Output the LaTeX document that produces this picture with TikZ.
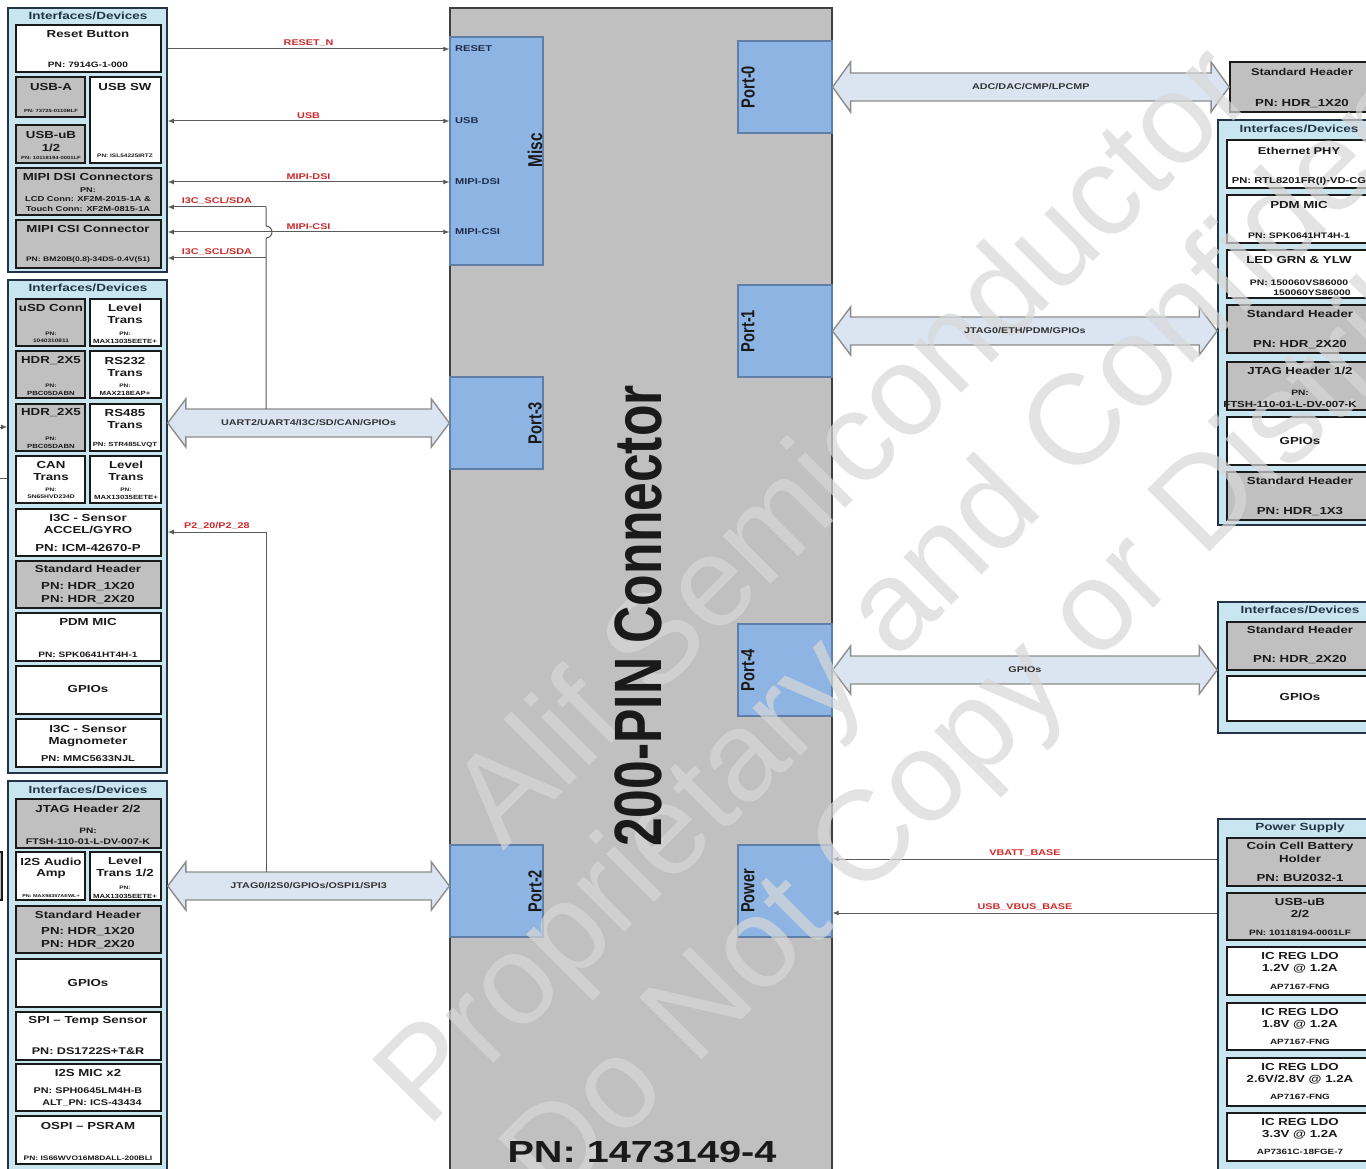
\documentclass[tikz,border=0pt]{standalone}
\usepackage{fontspec}
\setmainfont{Liberation Sans}
\newfontfamily\hf[FakeStretch=1.3]{Liberation Sans}
\newfontfamily\vf[FakeStretch=0.77]{Liberation Sans}
\newfontfamily\wmf{Liberation Sans}
\usetikzlibrary{arrows.meta,calc}
\pgfdeclarelayer{front}
\pgfsetlayers{main,front}
\definecolor{pnlfill}{HTML}{C9E5EF}
\definecolor{pnlline}{HTML}{243447}
\definecolor{boxgray}{HTML}{C0C0C0}
\definecolor{ctrgray}{HTML}{C0C0C0}
\definecolor{portblue}{HTML}{8DB4E2}
\definecolor{portline}{HTML}{5F7FA8}
\definecolor{fatfill}{HTML}{DBE5F1}
\definecolor{fatline}{HTML}{8C8C8C}
\definecolor{connc}{HTML}{5A5A5A}
\definecolor{sigred}{HTML}{CC2A2A}
\definecolor{txtc}{HTML}{1A1A1A}
\definecolor{pinc}{HTML}{1F2D4D}
\definecolor{wmark}{HTML}{D8D8D8}
\newcount\tnc
\newcommand\tx[4][10.2]{\global\advance\tnc by 1 \begin{pgfonlayer}{front}\node[txt,font=\hf\bfseries\fontsize{#1}{#1}\selectfont] (t\the\tnc) at (#2,#3) {#4};\end{pgfonlayer}}
\newcommand\ttl[3]{\global\advance\tnc by 1 \begin{pgfonlayer}{front}\node[txt,text=pnlline,font=\hf\bfseries\fontsize{10.4}{10.4}\selectfont] (t\the\tnc) at (#1,#2) {#3};\end{pgfonlayer}}
\newcommand\vtx[4][19]{\global\advance\tnc by 1 \begin{pgfonlayer}{front}\node[txt,rotate=90,font=\vf\bfseries\fontsize{#1}{#1}\selectfont] (t\the\tnc) at (#2,#3) {#4};\end{pgfonlayer}}
\newcommand\bx[6]{\pgfmathsetmacro\bw{#5-#3}\pgfmathsetmacro\bh{#6-#4}\node[#2,minimum width=\bw pt,minimum height=\bh pt] (#1) at ({(#3+#5)/2},{(#4+#6)/2}) {};}
% fat double arrow: #1 left point, #2 right point, #3 head half height, #4 label, #5 name
\newcommand\fat[5]{%
 \draw[fatarr] let \p1=(#1), \p2=(#2) in
 (\x1,\y1) -- (\x1+18pt,\y1+#3pt) -- (\x1+18pt,\y1+14pt) -- (\x2-18pt,\y1+14pt) -- (\x2-18pt,\y1+#3pt) -- (\x2,\y1)
 -- (\x2-18pt,\y1-#3pt) -- (\x2-18pt,\y1-14pt) -- (\x1+18pt,\y1-14pt) -- (\x1+18pt,\y1-#3pt) -- cycle;
 \begin{pgfonlayer}{front}\node[txt,text=black!80,font=\hf\bfseries\fontsize{8.3}{8.3}\selectfont] (#5) at ($(#1)!0.5!(#2)$) {#4};\end{pgfonlayer}}
\begin{document}
\begin{tikzpicture}[x=1pt,y=-1pt,
 >={Latex[length=6pt,width=5pt]},
 panel/.style={draw=pnlline,line width=1.6pt,fill=pnlfill,inner sep=0pt},
 wbox/.style={draw=txtc,line width=1.8pt,fill=white,inner sep=0pt},
 gbox/.style={draw=txtc,line width=1.8pt,fill=boxgray,inner sep=0pt},
 ctr/.style={draw=black!75,line width=2.2pt,fill=ctrgray,inner sep=0pt},
 port/.style={draw=portline,line width=1.2pt,fill=portblue,inner sep=0pt},
 txt/.style={inner sep=0pt,text=txtc},
 conn/.style={draw=connc,line width=1pt},
 fatarr/.style={draw=fatline,line width=1.4pt,fill=fatfill,line join=miter},
 sig/.style={text=sigred,font=\hf\bfseries\fontsize{8.3}{8.3}\selectfont,inner sep=1.5pt},
 pin/.style={inner sep=0pt,text=pinc,anchor=west,font=\hf\bfseries\fontsize{8.5}{8.5}\selectfont},
 wm/.style={inner sep=0pt,rotate=45,text=wmark,text opacity=0.7,font=\wmf\fontsize{128}{128}\selectfont}]
\useasboundingbox (0,0) rectangle (1366,1169);
\fill[white] (0,0) rectangle (1366,1169);
\clip (0,0) rectangle (1366,1169);

% ================= LEFT PANEL 1 =================
\bx{p1}{panel}{8}{8}{167}{272}
\ttl{88}{16}{Interfaces/Devices}
\bx{breset}{wbox}{16}{25}{161}{72}
\tx{88}{34}{Reset Button}
\tx[7.8]{88}{65}{PN: 7914G-1-000}
\bx{busba}{gbox}{16}{77}{85}{117}
\tx{51}{87}{USB-A}
\tx[4.5]{51}{111}{PN: 73725-0110BLF}
\bx{busbsw}{wbox}{90}{77}{161}{163}
\tx{125}{87}{USB SW}
\tx[5]{125}{156}{PN: ISL54225IRTZ}
\bx{busbub}{gbox}{16}{125}{85}{163}
\tx{51}{135}{USB-uB}
\tx{51}{148}{1/2}
\tx[4.5]{51}{158}{PN: 10118194-0001LF}
\bx{bdsi}{gbox}{16}{168}{161}{215}
\tx{88}{177}{MIPI DSI Connectors}
\tx[7]{88}{190}{PN:}
\tx[7.2]{88}{199}{LCD Conn: XF2M-2015-1A \&}
\tx[7.2]{88}{209}{Touch Conn: XF2M-0815-1A}
\bx{bcsi}{gbox}{16}{220}{161}{268}
\tx{88}{229}{MIPI CSI Connector}
\tx[6.6]{88}{260}{PN: BM20B(0.8)-34DS-0.4V(51)}

% ================= LEFT PANEL 2 =================
\bx{p2}{panel}{8}{280}{167}{773}
\ttl{88}{288}{Interfaces/Devices}
\bx{busd}{gbox}{16}{299}{85}{346}
\tx{51}{308}{uSD Conn}
\tx[5]{51}{334}{PN:}
\tx[5]{51}{341}{1040310811}
\bx{blt1}{wbox}{90}{299}{161}{346}
\tx{125}{308}{Level}
\tx{125}{320}{Trans}
\tx[5]{125}{334}{PN:}
\tx[6]{125}{341}{MAX13035EETE+}
\bx{bhdr1}{gbox}{16}{351}{85}{398}
\tx{51}{361}{HDR\_2X5}
\tx[5]{51}{386}{PN:}
\tx[6]{51}{393}{PBC05DABN}
\bx{brs232}{wbox}{90}{351}{161}{398}
\tx{125}{361}{RS232}
\tx{125}{373}{Trans}
\tx[5]{125}{386}{PN:}
\tx[6]{125}{393}{MAX218EAP+}
\bx{bhdr2}{gbox}{16}{404}{85}{451}
\tx{51}{413}{HDR\_2X5}
\tx[5]{51}{439}{PN:}
\tx[6]{51}{446}{PBC05DABN}
\bx{brs485}{wbox}{90}{404}{161}{451}
\tx{125}{413}{RS485}
\tx{125}{425}{Trans}
\tx[6]{125}{445}{PN: STR485LVQT}
\bx{bcan}{wbox}{16}{456}{85}{503}
\tx{51}{465}{CAN}
\tx{51}{477}{Trans}
\tx[5]{51}{490}{PN:}
\tx[5.2]{51}{497}{SN65HVD234D}
\bx{blt2}{wbox}{90}{456}{161}{503}
\tx{126}{465}{Level}
\tx{126}{477}{Trans}
\tx[5]{126}{490}{PN:}
\tx[6]{126}{497}{MAX13035EETE+}
\bx{bacc}{wbox}{16}{509}{161}{556}
\tx{88}{518}{I3C - Sensor}
\tx{88}{530}{ACCEL/GYRO}
\tx{88}{548}{PN: ICM-42670-P}
\bx{bstd1}{gbox}{16}{561}{161}{608}
\tx{88}{569}{Standard Header}
\tx{88}{587}{PN: HDR\_1X20}
\tx{88}{600}{PN: HDR\_2X20}
\bx{bpdm1}{wbox}{16}{613}{161}{661}
\tx{88}{622}{PDM MIC}
\tx[7.8]{88}{655}{PN: SPK0641HT4H-1}
\bx{bgp1}{wbox}{16}{666}{161}{714}
\tx{88}{689}{GPIOs}
\bx{bmag}{wbox}{16}{719}{161}{767}
\tx{88}{729}{I3C - Sensor}
\tx{88}{742}{Magnometer}
\tx[8.5]{88}{759}{PN: MMC5633NJL}

% ================= LEFT PANEL 3 =================
\bx{p3}{panel}{8}{781}{167}{1185}
\ttl{88}{790}{Interfaces/Devices}
\bx{bjtag2}{gbox}{16}{799}{161}{848}
\tx{88}{809}{JTAG Header 2/2}
\tx[7.8]{88}{831}{PN:}
\tx[8.2]{88}{842}{FTSH-110-01-L-DV-007-K}
\bx{bi2samp}{wbox}{16}{852}{85}{900}
\tx{51}{862}{I2S Audio}
\tx{51}{874}{Amp}
\tx[4.2]{51}{896}{PN: MAX98357AEWL+}
\bx{blt3}{wbox}{90}{852}{161}{900}
\tx{125}{861}{Level}
\tx{125}{873}{Trans 1/2}
\tx[5]{125}{888}{PN:}
\tx[6]{125}{896}{MAX13035EETE+}
\bx{bstd2}{gbox}{16}{906}{161}{953}
\tx{88}{915}{Standard Header}
\tx{88}{932}{PN: HDR\_1X20}
\tx{88}{945}{PN: HDR\_2X20}
\bx{bgp2}{wbox}{16}{959}{161}{1007}
\tx{88}{983}{GPIOs}
\bx{bspi}{wbox}{16}{1012}{161}{1060}
\tx{88}{1021}{SPI – Temp Sensor}
\tx[9.7]{88}{1051}{PN: DS1722S+T\&R}
\bx{bi2smic}{wbox}{16}{1064}{161}{1111}
\tx{88}{1073}{I2S MIC x2}
\tx[8.3]{88}{1091}{PN: SPH0645LM4H-B}
\tx[8.3]{92}{1103}{ALT\_PN: ICS-43434}
\bx{bpsram}{wbox}{16}{1116}{161}{1164}
\tx{88}{1126}{OSPI – PSRAM}
\tx[6.5]{88}{1158}{PN: IS66WVO16M8DALL-200BLI}

% external stubs at left edge
\coordinate (ext1) at (0,427);
\coordinate (ext2) at (0,478);
\bx{extbox}{gbox}{-40}{852}{2}{900}

% ================= CENTER CONNECTOR =================
\bx{main}{ctr}{450}{8}{832}{1185}
\bx{misc}{port}{450}{37}{543}{265}
\bx{port3}{port}{450}{377}{543}{469}
\bx{port2}{port}{450}{845}{543}{937}
\bx{port0}{port}{738}{41}{832}{133}
\bx{port1}{port}{738}{285}{832}{377}
\bx{port4}{port}{738}{624}{832}{716}
\bx{power}{port}{738}{845}{832}{937}
\begin{pgfonlayer}{front}
\node[pin] (pinreset) at (455,49) {RESET};
\node[pin] (pinusb) at (455,121) {USB};
\node[pin] (pindsi) at (455,182) {MIPI-DSI};
\node[pin] (pincsi) at (455,232) {MIPI-CSI};
\end{pgfonlayer}
\vtx[20]{535}{150}{Misc}
\vtx{535}{423}{Port-3}
\vtx{535}{891}{Port-2}
\vtx{748}{87}{Port-0}
\vtx{748}{331}{Port-1}
\vtx{748}{670}{Port-4}
\vtx{748}{891}{Power}
\vtx[67]{638}{616}{200-PIN Connector}
\tx[30.5]{642}{1152}{PN: 1473149-4}

% ================= RIGHT SIDE =================
\bx{rstd0}{gbox}{1230}{62}{1380}{112}
\tx[9.8]{1302}{72}{Standard Header}
\tx{1302}{104}{PN: HDR\_1X20}

\bx{pR1}{panel}{1218}{120}{1385}{525}
\ttl{1299}{129}{Interfaces/Devices}
\bx{beth}{wbox}{1227}{140}{1380}{188}
\tx[9.9]{1299}{151}{Ethernet PHY}
\tx[8.6]{1299}{181}{PN: RTL8201FR(I)-VD-CG}
\bx{bpdm2}{wbox}{1227}{195}{1380}{243}
\tx{1299}{205}{PDM MIC}
\tx[8]{1299}{236}{PN: SPK0641HT4H-1}
\bx{bled}{wbox}{1227}{250}{1380}{298}
\tx{1299}{260}{LED GRN \& YLW}
\tx[8]{1299}{283}{PN: 150060VS86000}
\tx[8]{1312}{293}{150060YS86000}
\bx{bstd3}{gbox}{1227}{305}{1380}{353}
\tx{1300}{314}{Standard Header}
\tx{1300}{345}{PN: HDR\_2X20}
\bx{bjtag1}{gbox}{1227}{362}{1380}{410}
\tx{1300}{371}{JTAG Header 1/2}
\tx[7.8]{1300}{393}{PN:}
\tx[8.8]{1290}{404}{FTSH-110-01-L-DV-007-K}
\bx{bgp3}{wbox}{1227}{417}{1380}{465}
\tx{1300}{441}{GPIOs}
\bx{bstd4}{gbox}{1227}{472}{1380}{520}
\tx{1300}{481}{Standard Header}
\tx{1300}{512}{PN: HDR\_1X3}

\bx{pR2}{panel}{1218}{602}{1385}{733}
\ttl{1300}{610}{Interfaces/Devices}
\bx{bstd5}{gbox}{1227}{622}{1380}{670}
\tx{1300}{630}{Standard Header}
\tx{1300}{660}{PN: HDR\_2X20}
\bx{bgp4}{wbox}{1227}{676}{1380}{721}
\tx{1300}{697}{GPIOs}

\bx{pR3}{panel}{1218}{819}{1385}{1185}
\ttl{1300}{828}{Power Supply}
\bx{bcoin}{gbox}{1227}{838}{1380}{886}
\tx{1300}{847}{Coin Cell Battery}
\tx{1300}{859}{Holder}
\tx{1300}{878}{PN: BU2032-1}
\bx{busbub2}{gbox}{1227}{893}{1380}{940}
\tx{1300}{902}{USB-uB}
\tx{1300}{914}{2/2}
\tx[7.7]{1300}{933}{PN: 10118194-0001LF}
\bx{bldo1}{wbox}{1227}{947}{1380}{995}
\tx{1300}{956}{IC REG LDO}
\tx{1300}{969}{1.2V @ 1.2A}
\tx[7.6]{1300}{987}{AP7167-FNG}
\bx{bldo2}{wbox}{1227}{1003}{1380}{1050}
\tx{1300}{1012}{IC REG LDO}
\tx{1300}{1025}{1.8V @ 1.2A}
\tx[7.6]{1300}{1042}{AP7167-FNG}
\bx{bldo3}{wbox}{1227}{1058}{1380}{1106}
\tx{1300}{1067}{IC REG LDO}
\tx{1300}{1080}{2.6V/2.8V @ 1.2A}
\tx[7.6]{1300}{1097}{AP7167-FNG}
\bx{bldo4}{wbox}{1227}{1113}{1380}{1161}
\tx{1300}{1122}{IC REG LDO}
\tx{1300}{1135}{3.3V @ 1.2A}
\tx[7.6]{1300}{1152}{AP7361C-18FGE-7}

% ================= FAT ARROWS =================
\coordinate (jtagc) at ($(port2.west)+(0,-5)$);
\fat{p2.east |- port3.west}{port3.west}{24}{UART2/UART4/I3C/SD/CAN/GPIOs}{lfat1}
\fat{p3.east |- jtagc}{jtagc}{24}{JTAG0/I2S0/GPIOs/OSPI1/SPI3}{lfat2}
\fat{port0.east}{rstd0.west |- port0.east}{25}{ADC/DAC/CMP/LPCMP}{lfat3}
\fat{port1.east}{pR1.west |- port1.east}{24}{JTAG0/ETH/PDM/GPIOs}{lfat4}
\fat{port4.east}{pR2.west |- port4.east}{24}{GPIOs}{lfat5}

% ================= THIN CONNECTORS =================
\draw[conn,->] (p1.east |- pinreset) -- node[sig,above] (lreset) {RESET\_N} (misc.west |- pinreset);
\draw[conn,<->] (p1.east |- pinusb) -- node[sig,above] (lusb) {USB} (misc.west |- pinusb);
\draw[conn,<->] (p1.east |- pindsi) -- node[sig,above] (ldsi) {MIPI-DSI} (misc.west |- pindsi);
\draw[conn,<->] (p1.east |- pincsi) -- node[sig,above] (lcsi) {MIPI-CSI} (misc.west |- pincsi);
\coordinate (j1) at (266,207);
\coordinate (j3) at (266,258);
\coordinate (j2) at (266,532);
\coordinate (uarttop) at ($(port3.west)+(0,-14)$);
\coordinate (jtagtop) at ($(jtagc)+(0,-14)$);
\draw[conn,->] (j1) -- node[sig,above] (li3c1) {I3C\_SCL/SDA} (p1.east |- j1);
\draw[conn,->] (j3) -- node[sig,above] (li3c2) {I3C\_SCL/SDA} (p1.east |- j3);
\draw[conn] (j1) -- ($(j1 |- pincsi)+(0,-6)$) arc[start angle=90,end angle=-90,radius=6pt] -- (j1 |- uarttop);
\draw[conn,->] (j2) -- node[sig,above] (lp2) {P2\_20/P2\_28} (p2.east |- j2);
\draw[conn] (j2) -- (j2 |- jtagtop);
\coordinate (vb) at (1025,859);
\coordinate (vbus) at (1025,913);
\draw[conn,->] (pR3.west |- vb) -- node[sig,above] (lvb) {VBATT\_BASE} (power.east |- vb);
\draw[conn,->] (pR3.west |- vbus) -- node[sig,above] (lvbus) {USB\_VBUS\_BASE} (power.east |- vbus);
\draw[conn,->] (ext1) -- (p2.west |- ext1);
\draw[conn] (ext2) -- (p2.west |- ext2);

% ================= WATERMARK =================
\node[wm] (wm1) at (848,442) {Alif Semiconductor};
\node[wm] (wm2) at (965,545) {Proprietary and Confidential};
\node[wm] (wm3) at (1046,669) {Do Not Copy or Distribute};
\end{tikzpicture}
\end{document}
